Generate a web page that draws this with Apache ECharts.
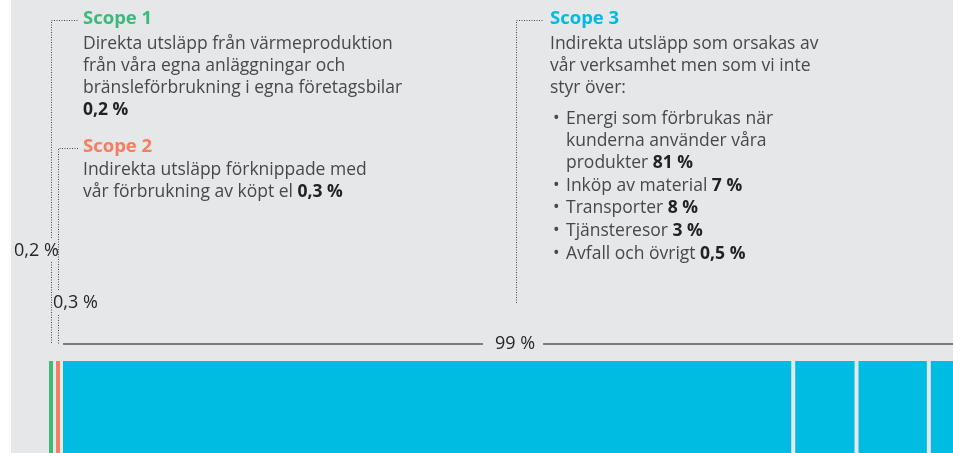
<!DOCTYPE html>
<html>
<head>
<meta charset="utf-8">
<script src="https://cdn.jsdelivr.net/npm/echarts@6/dist/echarts.min.js"></script>
<style>
  html, body { margin: 0; padding: 0; background: #fff; }
  #chart { width: 953px; height: 453px; background: linear-gradient(to right, #ffffff 11px, #e6e7e9 11px); }
</style>
</head>
<body>
<div id="chart"></div>
<script>
// Emission shares per scope (percent of total)
const scopeNames = ['Scope 1', 'Scope 2', 'Scope 3'];
const scopeShares = [0.2, 0.3, 99];
const scopeColors = ['#3dba7b', '#f47e60', '#00bbe2'];

const scope1Lines = ['Direkta utsläpp från värmeproduktion', 'från våra egna anläggningar och', 'bränsleförbrukning i egna företagsbilar'];
const scope2Lines = ['Indirekta utsläpp förknippade med', 'vår förbrukning av köpt el'];
const scope3Lines = ['Indirekta utsläpp som orsakas av', 'vår verksamhet men som vi inte', 'styr över:'];

// Scope 3 breakdown
const scope3Items = [
  ['Energi som förbrukas när', 'kunderna använder våra', 'produkter'],
  ['Inköp av material'],
  ['Transporter'],
  ['Tjänsteresor'],
  ['Avfall och övrigt']
];
const scope3Shares = [81, 7, 8, 3, 0.5];

// Bar segments: scope 1, scope 2, then each scope 3 part
const segValues = [scopeShares[0], scopeShares[1]].concat(scope3Shares);
const segColors = [scopeColors[0], scopeColors[1]].concat(scope3Shares.map(() => scopeColors[2]));

const FONT = '"Open Sans", sans-serif';
const TEXT = '#484848';
const STRONG = '#222222';
const BODY_SIZE = 17.5;
const MIN_SLOT = 7;   // smallest slot a segment takes, px
const MIN_BAR = 4;    // thinnest visible segment, px
const GAP = 4;        // space between segments, px

const fmt = v => String(v).replace('.', ',') + ' %';

// pixel offset of every segment start, given a value->pixel length function
function slotStarts(lenPx) {
  const starts = [];
  let x = 0;
  segValues.forEach(v => { starts.push(x); x += Math.max(lenPx(v), MIN_SLOT); });
  return starts;
}
const barWidth = slot => Math.max(slot - GAP, MIN_BAR);

const chart = echarts.init(document.getElementById('chart'), null, { renderer: 'canvas' });

chart.setOption({
  backgroundColor: 'transparent',
  animation: false,
  grid: { left: 49, top: 361, width: 906, height: 130 },
  xAxis: { type: 'value', min: 0, max: 100, show: false },
  yAxis: { type: 'category', data: ['Utsläpp'], show: false },
  series: [{
    type: 'custom',
    clip: false,
    data: segValues.map(v => [v, 0]),
    renderItem: function (params, api) {
      const i = params.dataIndex;
      const x0 = api.coord([0, 0])[0];
      const lenPx = v => api.size([v, 0])[0];
      const starts = slotStarts(lenPx);
      const slot = Math.max(lenPx(api.value(0)), MIN_SLOT);
      const band = api.size([0, 1])[1];
      const yc = api.coord([0, 0])[1];
      return {
        type: 'rect',
        shape: { x: x0 + starts[i], y: yc - band / 2, width: barWidth(slot), height: band },
        style: { fill: segColors[i] }
      };
    }
  }]
});

// Annotation layer ------------------------------------------------------
const x0 = chart.convertToPixel({ xAxisIndex: 0 }, 0);
const lenPx = v => chart.convertToPixel({ xAxisIndex: 0 }, v) - x0;
const starts = slotStarts(lenPx);
const segCenter = i => x0 + starts[i] + barWidth(Math.max(lenPx(segValues[i]), MIN_SLOT)) / 2;
const scope3Start = x0 + starts[2];

const rich = {
  n: { fontSize: BODY_SIZE, fontFamily: FONT, fill: TEXT },
  b: { fontSize: BODY_SIZE, fontFamily: FONT, fontWeight: 'bold', fill: STRONG }
};
function line(x, y, plain, bold) {
  let t = '';
  if (plain) t += '{n|' + plain + (bold ? ' ' : '') + '}';
  if (bold) t += '{b|' + bold + '}';
  return { type: 'text', x: x, y: y, style: { text: t, rich: rich, verticalAlign: 'middle', align: 'left' } };
}
function title(x, y, text, color) {
  return { type: 'text', x: x, y: y, style: { text: text, fill: color, fontSize: 18.5, fontWeight: 'bold', fontFamily: FONT, verticalAlign: 'middle' } };
}
function label(x, y, text, align) {
  return { type: 'text', x: x, y: y, style: { text: text, fill: '#262626', fontSize: 18, fontFamily: FONT, verticalAlign: 'middle', align: align || 'left' } };
}
function dotted(points) {
  return { type: 'polyline', shape: { points: points }, style: { stroke: '#4a4a4a', lineWidth: 1, lineDash: [1, 1.5], fill: null } };
}
function solid(x1, x2, y) {
  return { type: 'line', shape: { x1: x1, y1: y, x2: x2, y2: y }, style: { stroke: '#7d7d7d', lineWidth: 2 } };
}

const els = [];
const LH = 22;
const textX = 83;
const s3X = 550;
const baseY = 344;

// Scope 1
const c1 = Math.floor(segCenter(0)) + 0.5;
els.push(dotted([[c1, 238], [c1, 20.5], [78, 20.5]]));
els.push(dotted([[c1, 262], [c1, baseY]]));
els.push(title(textX, 19, scopeNames[0], scopeColors[0]));
scope1Lines.forEach((t, k) => els.push(line(textX, 44 + k * LH, t)));
els.push(line(textX, 44 + 3 * LH, '', fmt(scopeShares[0])));
els.push(label(14, 251, fmt(scopeShares[0])));

// Scope 2
const c2 = Math.floor(segCenter(1)) + 0.5;
els.push(dotted([[c2, 290], [c2, 148.5], [78, 148.5]]));
els.push(dotted([[c2, 315], [c2, baseY]]));
els.push(title(textX, 147, scopeNames[1], scopeColors[1]));
scope2Lines.forEach((t, k) => els.push(line(textX, 170 + k * LH, t, k === scope2Lines.length - 1 ? fmt(scopeShares[1]) : null)));
els.push(label(53, 303, fmt(scopeShares[1])));

// Scope 3
els.push(dotted([[516.5, 303], [516.5, 20.5], [543, 20.5]]));
els.push(title(s3X, 19, scopeNames[2], scopeColors[2]));
scope3Lines.forEach((t, k) => els.push(line(s3X, 44 + k * LH, t)));
let y = 119;
scope3Items.forEach((rows, i) => {
  els.push({ type: 'text', x: 553, y: y, style: { text: '•', fill: TEXT, fontSize: BODY_SIZE, fontFamily: FONT, verticalAlign: 'middle' } });
  rows.forEach((r, k) => {
    const last = k === rows.length - 1;
    els.push(line(566, y, r, last ? fmt(scope3Shares[i]) : null));
    y += last ? 22.7 : LH;
  });
});

// Scope 3 total bracket
els.push(solid(Math.round(scope3Start), 483, baseY));
els.push(solid(543, 953, baseY));
els.push(label(515, baseY, fmt(scopeShares[2]), 'center'));

chart.setOption({ graphic: { elements: els } });
</script>
</body>
</html>
